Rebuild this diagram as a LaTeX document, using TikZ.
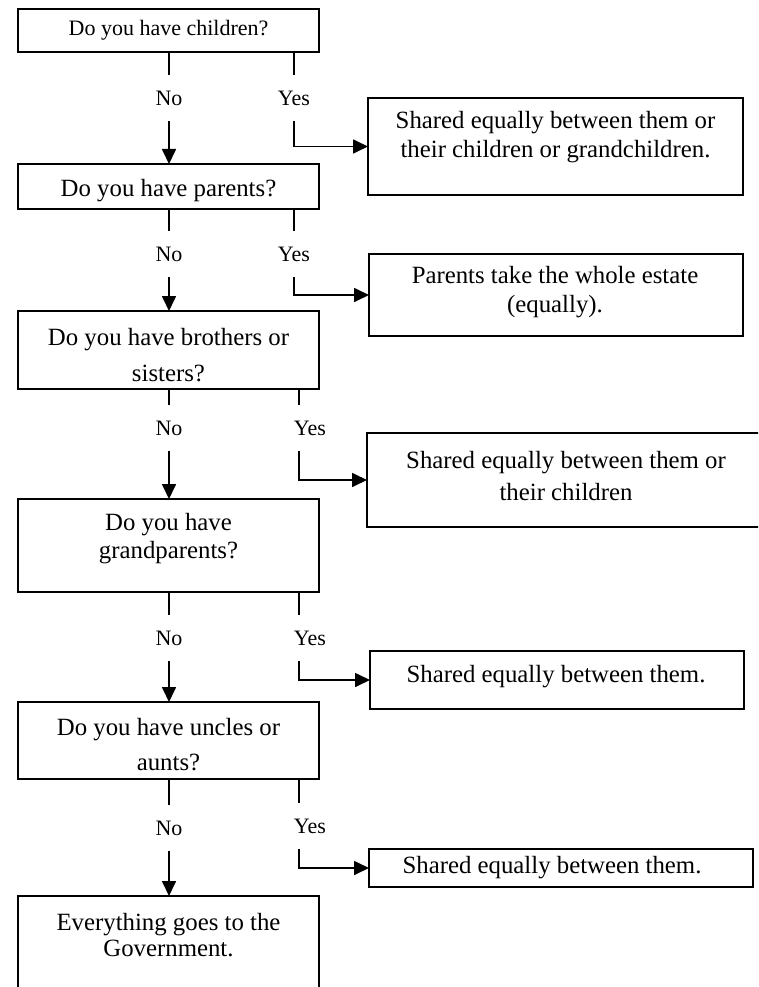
\documentclass[tikz,border=0pt]{standalone}
\usepackage{fontspec}
\setmainfont{Liberation Serif}
\usetikzlibrary{arrows.meta,fit}
\begin{document}
\begin{tikzpicture}[x=1pt,y=-1pt,
  box/.style={draw, line width=1.5pt, inner sep=0pt, outer sep=0pt},
  txt/.style={font=\fontsize{24.8}{#1}\selectfont, align=center, inner sep=0pt},
  lbl/.style={font=\fontsize{22}{26}\selectfont, inner sep=0pt, minimum height=46pt},
  ln/.style={line width=1.7pt},
  arr/.style={line width=1.7pt, -{Triangle[length=15pt,width=14pt]}}]
\useasboundingbox (0,0) rectangle (758,987);
\clip (0,0) rectangle (758,987);

% question boxes
\node[box, fit={(18,9) (319,52)}] (q1) {};
\node[box, fit={(18,164) (319,209)}] (q2) {};
\node[box, fit={(18,311) (319,389)}] (q3) {};
\node[box, fit={(18,499) (319,592)}] (q4) {};
\node[box, fit={(18,702) (319,779)}] (q5) {};
\node[box, fit={(18,896) (319,1010)}] (q6) {};
% answer boxes
\node[box, fit={(368,98) (743,195)}] (r1) {};
\node[box, fit={(369,254) (743,336)}] (r2) {};
\node[box, fit={(367,433) (775,527)}] (r3) {};
\node[box, fit={(370,651) (744,709)}] (r4) {};
\node[box, fit={(369,849) (753,887)}] (r5) {};

% texts
\node[inner sep=0pt, font=\fontsize{22}{26}\selectfont] (t1) at (168.5,30) {Do you have children?};
\node[txt=29] (t2) at (168.5,191) {Do you have parents?};
\node[txt=36] (t3) at (168.5,355) {Do you have brothers or\\sisters?};
\node[txt=28] (t4) at (168.5,539) {Do you have\\grandparents?};
\node[txt=35] (t5) at (168.5,744.5) {Do you have uncles or\\aunts?};
\node[txt=26] (t6) at (168.5,935) {Everything goes to the\\Government.};
\node[txt=29] (s1) at (555.5,137.5) {Shared equally between them or\\their children or grandchildren.};
\node[txt=29] (s2) at (555,292.5) {Parents take the whole estate\\(equally).};
\node[txt=32] (s3) at (566,476) {Shared equally between them or\\their children};
\node[txt=29] (s4) at (556,677) {Shared equally between them.};
\node[txt=29] (s5) at (552,868) {Shared equally between them.};

% labels
\node[lbl] (n1) at (169,98) {No};
\node[lbl] (y1) at (294,98) {Yes};
\node[lbl] (n2) at (169,254) {No};
\node[lbl] (y2) at (294,254) {Yes};
\node[lbl] (n3) at (169,428) {No};
\node[lbl] (y3) at (310,428) {Yes};
\node[lbl] (n4) at (169,638) {No};
\node[lbl] (y4) at (310,638) {Yes};
\node[lbl] (n5) at (169,828) {No};
\node[lbl] (y5) at (310,826) {Yes};
\coordinate (c1) at (294,0);
\coordinate (c2) at (294,0);
\coordinate (c3) at (299,0);
\coordinate (c4) at (299,0);
\coordinate (c5) at (299,0);

% connectors
\draw[ln] (q1.south -| n1) -- (n1.north);
\draw[arr] (n1.south) -- (q2.north -| n1);
\draw[ln] (q1.south -| c1) -- (c1 |- y1.north);
\draw[arr] (c1 |- y1.south) |- (r1.west);

\draw[ln] (q2.south -| n2) -- (n2.north);
\draw[arr] (n2.south) -- (q3.north -| n2);
\draw[ln] (q2.south -| c2) -- (c2 |- y2.north);
\draw[arr] (c2 |- y2.south) |- (r2.west);

\draw[ln] (q3.south -| n3) -- (n3.north);
\draw[arr] (n3.south) -- (q4.north -| n3);
\draw[ln] (q3.south -| c3) -- (c3 |- y3.north);
\draw[arr] (c3 |- y3.south) |- (r3.west);

\draw[ln] (q4.south -| n4) -- (n4.north);
\draw[arr] (n4.south) -- (q5.north -| n4);
\draw[ln] (q4.south -| c4) -- (c4 |- y4.north);
\draw[arr] (c4 |- y4.south) |- (r4.west);

\draw[ln] (q5.south -| n5) -- (n5.north);
\draw[arr] (n5.south) -- (q6.north -| n5);
\draw[ln] (q5.south -| c5) -- (c5 |- y5.north);
\draw[arr] (c5 |- y5.south) |- (r5.west);
\end{tikzpicture}
\end{document}
